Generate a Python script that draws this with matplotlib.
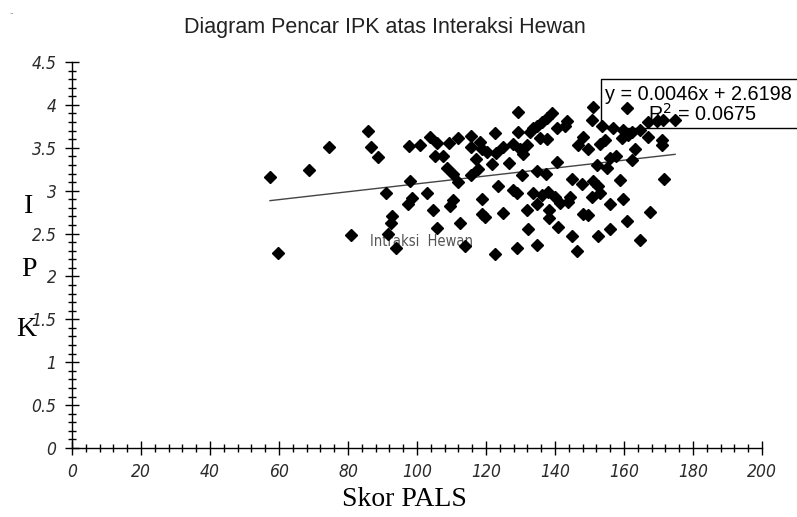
import numpy as np
import matplotlib
matplotlib.use("Agg")
import matplotlib.pyplot as plt
from matplotlib.patches import Rectangle
from matplotlib.ticker import MultipleLocator

# Skor PALS (x) vs IPK (y)
pals = [57.4, 59.8, 68.7, 74.5, 80.9, 85.7, 86.7, 88.7, 90.9, 92.7, 92.5, 91.5, 93.8,
        97.8, 100.9, 103.8, 105.7, 109.4, 112.0, 115.6, 115.7, 118.3, 118.8, 120.2,
        122.6, 122.9, 125.0, 127.9, 129.4, 129.4, 129.9, 130.8, 131.8, 105.2, 107.6,
        117.1, 108.6, 110.5, 117.8, 121.7, 126.8, 115.6, 98.0, 130.3, 134.7, 137.4,
        132.8, 133.7, 134.7, 136.1, 137.8, 139.0, 135.7, 137.8, 143.4, 140.5, 142.9,
        151.1, 150.6, 160.8, 153.5, 156.9, 159.8, 162.2, 164.6, 167.0, 169.5, 171.4,
        174.8, 148.2, 146.8, 149.7, 153.0, 154.5, 159.3, 161.2, 163.2, 167.0, 170.9,
        170.9, 157.8, 155.9, 162.2, 152.1, 155.0, 140.5, 144.8, 151.0, 158.8, 171.6,
        112.0, 123.6, 127.9, 128.9, 102.8, 98.5, 97.5, 110.5, 109.6, 118.8, 133.7,
        136.3, 134.7, 131.8, 138.3, 104.7, 118.8, 119.7, 125.0, 138.3, 112.5, 105.7,
        132.3, 113.9, 122.6, 128.9, 134.7, 147.7, 138.0, 140.0, 141.4, 144.3, 143.8,
        152.6, 153.0, 150.6, 159.8, 155.9, 148.2, 149.7, 167.5, 141.0, 160.8, 155.9,
        144.8, 152.6, 164.6, 146.5]
ipk = [3.16, 2.27, 3.24, 3.51, 2.48, 3.70, 3.51, 3.39, 2.97, 2.70, 2.62, 2.50, 2.33,
       3.52, 3.53, 3.63, 3.56, 3.56, 3.62, 3.64, 3.51, 3.57, 3.49, 3.45,
       3.67, 3.44, 3.51, 3.55, 3.92, 3.68, 3.49, 3.43, 3.53, 3.41, 3.40,
       3.37, 3.26, 3.20, 3.25, 3.31, 3.32, 3.18, 3.11, 3.18, 3.23, 3.20,
       3.69, 3.73, 3.76, 3.80, 3.85, 3.90, 3.61, 3.60, 3.81, 3.73, 3.76,
       3.97, 3.83, 3.96, 3.75, 3.73, 3.71, 3.69, 3.71, 3.80, 3.81, 3.83,
       3.83, 3.63, 3.53, 3.49, 3.55, 3.59, 3.61, 3.65, 3.49, 3.63, 3.59,
       3.53, 3.40, 3.38, 3.36, 3.30, 3.26, 3.34, 3.14, 3.11, 3.13, 3.14,
       3.10, 3.05, 3.01, 2.97, 2.97, 2.91, 2.84, 2.89, 2.82, 2.90, 2.97,
       2.95, 2.84, 2.77, 2.78, 2.77, 2.73, 2.69, 2.74, 2.68, 2.62, 2.56,
       2.55, 2.35, 2.26, 2.33, 2.37, 3.08, 2.99, 2.93, 2.86, 2.93, 2.87,
       3.05, 2.97, 2.93, 2.90, 2.84, 2.73, 2.72, 2.75, 2.58, 2.65, 2.55,
       2.47, 2.47, 2.42, 2.30]

# trendline as shown in the chart label
slope = 0.0046
intercept = 2.6198
r2 = 0.0675

tick_font = dict(family="DejaVu Sans", style="oblique", stretch="condensed",
                 size=12.5, color="#2a2a2a")

fig = plt.figure(figsize=(7.97, 5.17), dpi=100)
ax = fig.add_axes([0.0903, 0.1335, 0.8658, 0.7465])

ax.plot(pals, ipk, linestyle="none", marker="D", markersize=6,
        color="black", zorder=4, clip_on=False)

xs = np.array([min(pals), max(pals)])
ax.plot(xs, slope * xs + intercept, color="#444444", linewidth=1, zorder=3)

ax.set_xlim(0, 200)
ax.set_ylim(0, 4.5)
ax.xaxis.set_minor_locator(MultipleLocator(4))
ax.yaxis.set_minor_locator(MultipleLocator(0.1))
ax.set_xticks(np.arange(0, 201, 20))
ax.set_xticklabels([str(v) for v in range(0, 201, 20)], **tick_font)
yt = np.arange(0, 4.51, 0.5)
ax.set_yticks(yt)
ax.set_yticklabels([("%g" % v) for v in yt], **tick_font)

for s in ["top", "right"]:
    ax.spines[s].set_visible(False)
for s in ["left", "bottom"]:
    ax.spines[s].set_linewidth(1)
ax.tick_params(which="major", direction="inout", length=10, width=1, pad=6)
ax.tick_params(which="minor", direction="inout", length=6, width=1)
ax.tick_params(axis="x", pad=6)

# equation box (sits under the markers, runs off the right edge)
box = Rectangle((601 / 797, 1 - 128 / 517), 0.3, 49 / 517, transform=fig.transFigure,
                facecolor="white", edgecolor="black", linewidth=1,
                clip_on=False, zorder=2)
ax.add_patch(box)
ax.text(605 / 797, 1 - 94 / 517, "y = 0.0046x + 2.6198", transform=fig.transFigure,
        family="Liberation Sans", fontsize=14.3, va="center", ha="left", zorder=2.5)
ax.text(648 / 797, 1 - 114 / 517, "R$^2$ = %.4f" % r2, transform=fig.transFigure,
        family="Liberation Sans", fontsize=14.3, va="center", ha="left", zorder=2.5)

ax.text(370 / 797, 1 - 242 / 517, "Intraksi  Hewan", transform=fig.transFigure,
        family="DejaVu Sans", stretch="condensed", fontsize=10.5, color="#555555",
        va="center", ha="left", zorder=2)

fig.text(385 / 797, 1 - 28 / 517, "Diagram Pencar IPK atas Interaksi Hewan",
         family="Liberation Sans", fontsize=15.5, ha="center", va="center", color="#222222")
fig.text(404 / 797, 1 - 500 / 517, "Skor PALS", family="Liberation Serif",
         fontsize=20, ha="center", va="center")
for letter, xpix, ypix in zip("IPK", [29, 29, 26], [207, 270, 330]):
    fig.text(xpix / 797, 1 - ypix / 517, letter, family="Liberation Serif",
             fontsize=20, ha="center", va="center")
fig.text(12 / 797, 1 - 14 / 517, "..", fontsize=5, color="#666666", ha="center")

fig.savefig("out.png", dpi=100)
